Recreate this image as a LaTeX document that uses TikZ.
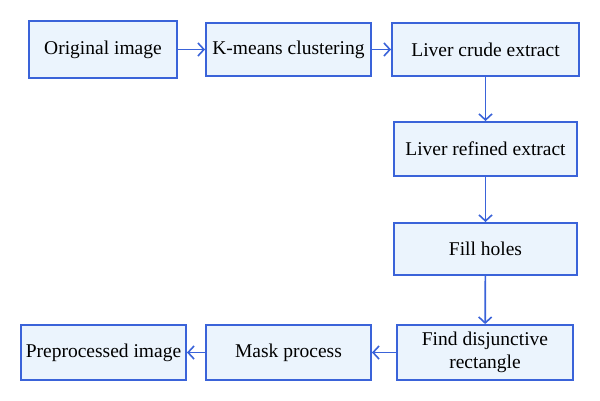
\documentclass[tikz,border=0pt]{standalone}
\usepackage{fontspec}
\setmainfont{Liberation Serif}
\usetikzlibrary{arrows.meta}
\definecolor{edgeblue}{RGB}{58,99,217}
\definecolor{boxfill}{RGB}{235,244,253}
\begin{document}
\begin{tikzpicture}[x=1pt,y=-1pt,
  box/.style={draw=edgeblue, fill=boxfill, line width=1.9pt, inner sep=0pt,
    font=\fontsize{19.5}{23}\selectfont, align=center},
  conn/.style={draw=edgeblue, line width=1.7pt,
    -{Straight Barb[length=6pt,width=13pt,line width=1.6pt]}}]
\fill[white] (0,0) rectangle (600,401);
\useasboundingbox (0,0) rectangle (600,401);
\node[box, minimum width=148pt, minimum height=57pt] (orig) at (103,49.5) {Original image};
\node[box, minimum width=165pt, minimum height=53pt] (kmeans) at (288.5,49.5) {K-means clustering};
\node[box, minimum width=187pt, minimum height=53pt] (crude) at (485.5,49.5) {Liver crude extract};
\node[box, minimum width=183pt, minimum height=54pt] (refined) at (485.5,149) {Liver refined extract};
\node[box, minimum width=183pt, minimum height=52pt] (fill) at (485.5,249) {Fill holes};
\node[box, minimum width=176pt, minimum height=55pt] (find) at (485,352.5) {Find disjunctive\\rectangle};
\node[box, minimum width=165pt, minimum height=55pt] (mask) at (288.5,352.5) {Mask process};
\node[box, minimum width=165pt, minimum height=55pt] (pre) at (103.5,352.5) {Preprocessed image};
\draw[conn] (orig) -- (kmeans);
\draw[conn] (kmeans) -- (crude);
\draw[conn] (crude) -- (refined);
\draw[conn] (refined) -- (fill);
\draw[conn] (fill) -- (find);
\draw[conn] (find) -- (mask);
\draw[conn] (mask) -- (pre);
\end{tikzpicture}
\end{document}
